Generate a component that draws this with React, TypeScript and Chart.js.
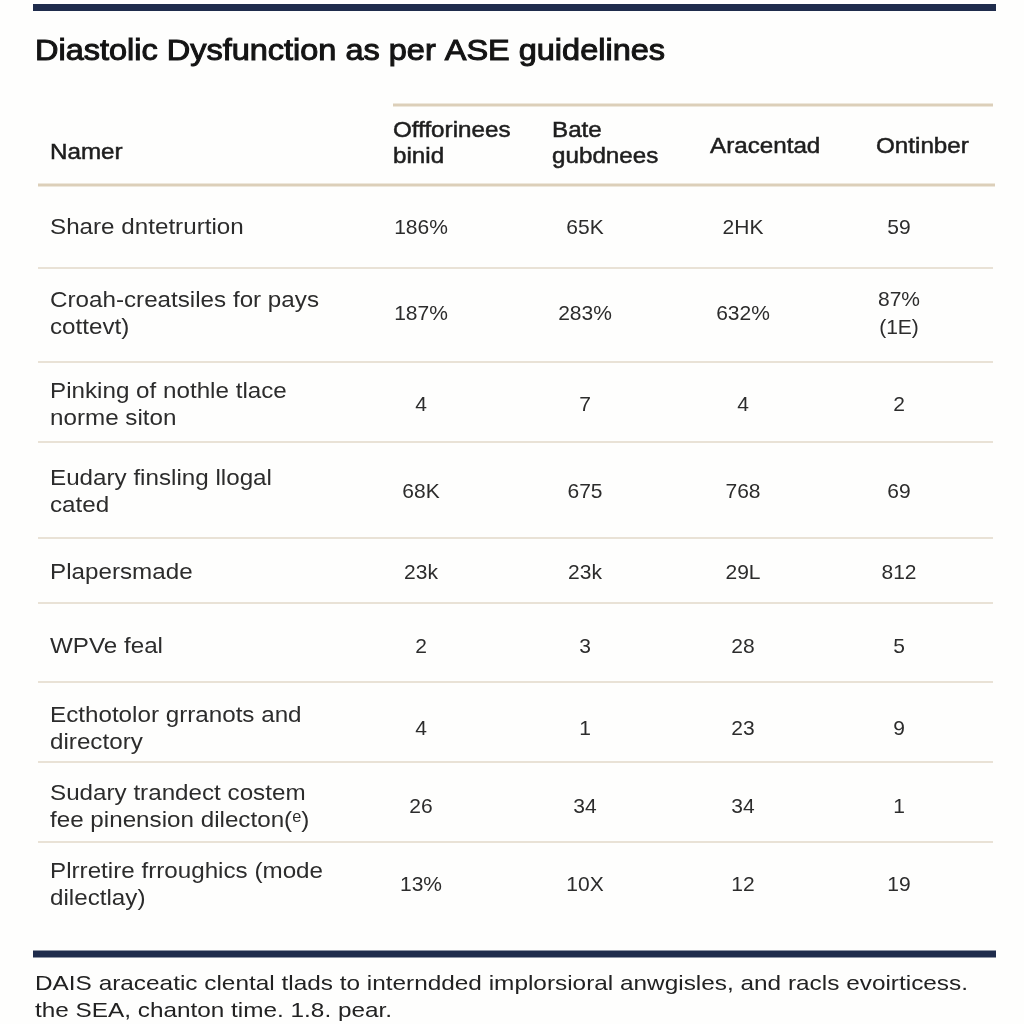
import React, { useEffect, useRef } from "react";
import { Chart, registerables } from "chart.js";

Chart.register(...registerables);

// ---------- data ----------
const titleText = "Diastolic Dysfunction as per ASE guidelines";
const nameHeader = "Namer";
const columnHeaders = ["Offforinees\nbinid", "Bate\ngubdnees", "Aracentad", "Ontinber"];
const rowNames = [
  "Share dntetrurtion",
  "Croah-creatsiles for pays\ncottevt)",
  "Pinking of nothle tlace\nnorme siton",
  "Eudary finsling llogal\ncated",
  "Plapersmade",
  "WPVe feal",
  "Ecthotolor grranots and\ndirectory",
  "Sudary trandect costem\nfee pinension dilecton(ᵉ)",
  "Plrretire frroughics (mode\ndilectlay)",
];
const col1Values = ["186%", "187%", "4", "68K", "23k", "2", "4", "26", "13%"];
const col2Values = ["65K", "283%", "7", "675", "23k", "3", "1", "34", "10X"];
const col3Values = ["2HK", "632%", "4", "768", "29L", "28", "23", "34", "12"];
const col4Values = ["59", "87%\n(1E)", "2", "69", "812", "5", "9", "1", "19"];
const footerLines = [
  "DAIS araceatic clental tlads to interndded implorsioral anwgisles, and racls evoirticess.",
  "the SEA, chanton time. 1.8. pear.",
];

// ---------- layout (page units mapped through the chart's scales) ----------
const FONT = '"Liberation Sans", Arial, Helvetica, sans-serif';
const rowCenters = [228, 314, 405, 492, 573, 647, 729, 807, 885];
const rowSeparators = [268, 362, 442, 538, 603, 682, 762, 842];
const valueColumnCenters = [421, 585, 743, 899];
const headerLeft = [393, 552, 710, 876];

export default function App() {
  const ref = useRef<HTMLCanvasElement>(null);

  useEffect(() => {
    const canvas = ref.current!;
    const valueCols = [col1Values, col2Values, col3Values, col4Values];

    const tablePlugin = {
      id: "tablePlugin",
      beforeDraw(chart: any) {
        const c = chart.ctx;
        c.save();
        c.fillStyle = "#fefefd";
        c.fillRect(0, 0, chart.width, chart.height);
        c.restore();
      },
      afterDraw(chart: any) {
        const c: CanvasRenderingContext2D = chart.ctx;
        const X = (v: number) => chart.scales.x.getPixelForValue(v);
        const Y = (v: number) => chart.scales.y.getPixelForValue(v);

        const hline = (x1: number, x2: number, y: number, w: number, color: string) => {
          c.save();
          c.strokeStyle = color;
          c.lineWidth = w;
          c.beginPath();
          c.moveTo(X(x1), Y(y));
          c.lineTo(X(x2), Y(y));
          c.stroke();
          c.restore();
        };

        const text = (
          s: string,
          x: number,
          y: number,
          size: number,
          opts: {
            align?: CanvasTextAlign;
            color?: string;
            weight?: number;
            fitWidth?: number;
            lineH?: number;
            sx?: number;
          } = {}
        ) => {
          const lines = s.split("\n");
          const lh = opts.lineH ?? size * 1.3;
          const top = y - ((lines.length - 1) * lh) / 2;
          lines.forEach((ln, i) => {
            c.save();
            c.font = `${size}px ${FONT}`;
            c.textAlign = opts.align ?? "left";
            c.textBaseline = "middle";
            c.fillStyle = opts.color ?? "#2a2a2a";
            const px = X(x);
            const py = Y(top + i * lh);
            c.translate(px, py);
            if (opts.fitWidth) {
              const m = c.measureText(ln).width;
              c.scale(opts.fitWidth / m, 1);
            } else if (opts.sx) {
              c.scale(opts.sx, 1);
            }
            c.fillText(ln, 0, 0);
            if (opts.weight) {
              c.strokeStyle = opts.color ?? "#2a2a2a";
              c.lineWidth = opts.weight;
              c.strokeText(ln, 0, 0);
            }
            c.restore();
          });
        };

        // frame lines
        hline(33, 996, 7.5, 7, "#1f2c4c");
        hline(33, 996, 954, 7, "#1f2c4c");

        // title
        text(titleText, 35, 52, 29, { color: "#141414", weight: 1, fitWidth: 630 });

        // header lines
        hline(393, 993, 105, 3, "#dccfb9");
        hline(38, 995, 185, 3, "#dccfb9");

        // headers
        text(nameHeader, 50, 153, 22, { color: "#1e1e1e", weight: 0.5, sx: 1.1 });
        columnHeaders.forEach((h, i) => {
          const multi = h.includes("\n");
          text(h, headerLeft[i], multi ? 144 : 147, 22, { color: "#1e1e1e", weight: 0.5, lineH: 26, sx: 1.1 });
        });

        // row separators
        rowSeparators.forEach((y) => hline(38, 993, y, 2, "#e9e2d6"));

        // rows
        rowNames.forEach((n, r) => {
          text(n, 50, rowCenters[r], 22, { color: "#2c2c2c", lineH: 27, sx: 1.1 });
          valueCols.forEach((col, ci) => {
            text(col[r], valueColumnCenters[ci], rowCenters[r], 21, { align: "center", color: "#2c2c2c", lineH: 28 });
          });
        });

        // footer
        text(footerLines[0], 35, 984, 21, { color: "#222", fitWidth: 933 });
        text(footerLines[1], 35, 1011, 21, { color: "#222", fitWidth: 357 });
      },
    };

    const chart = new Chart(canvas, {
      type: "scatter",
      data: { datasets: [{ data: [], pointRadius: 0 }] },
      options: {
        responsive: false,
        animation: false,
        devicePixelRatio: 1,
        layout: { padding: 0 },
        plugins: { legend: { display: false }, tooltip: { enabled: false } },
        scales: {
          x: { type: "linear", min: 0, max: 1024, display: false },
          y: { type: "linear", min: 0, max: 1024, reverse: true, display: false },
        },
      },
      plugins: [tablePlugin],
    });
    return () => chart.destroy();
  }, []);

  return (
    <div style={{ position: "absolute", left: 0, top: 0, width: 1024, height: 1024 }}>
      <canvas ref={ref} width={1024} height={1024} style={{ display: "block" }} />
    </div>
  );
}
